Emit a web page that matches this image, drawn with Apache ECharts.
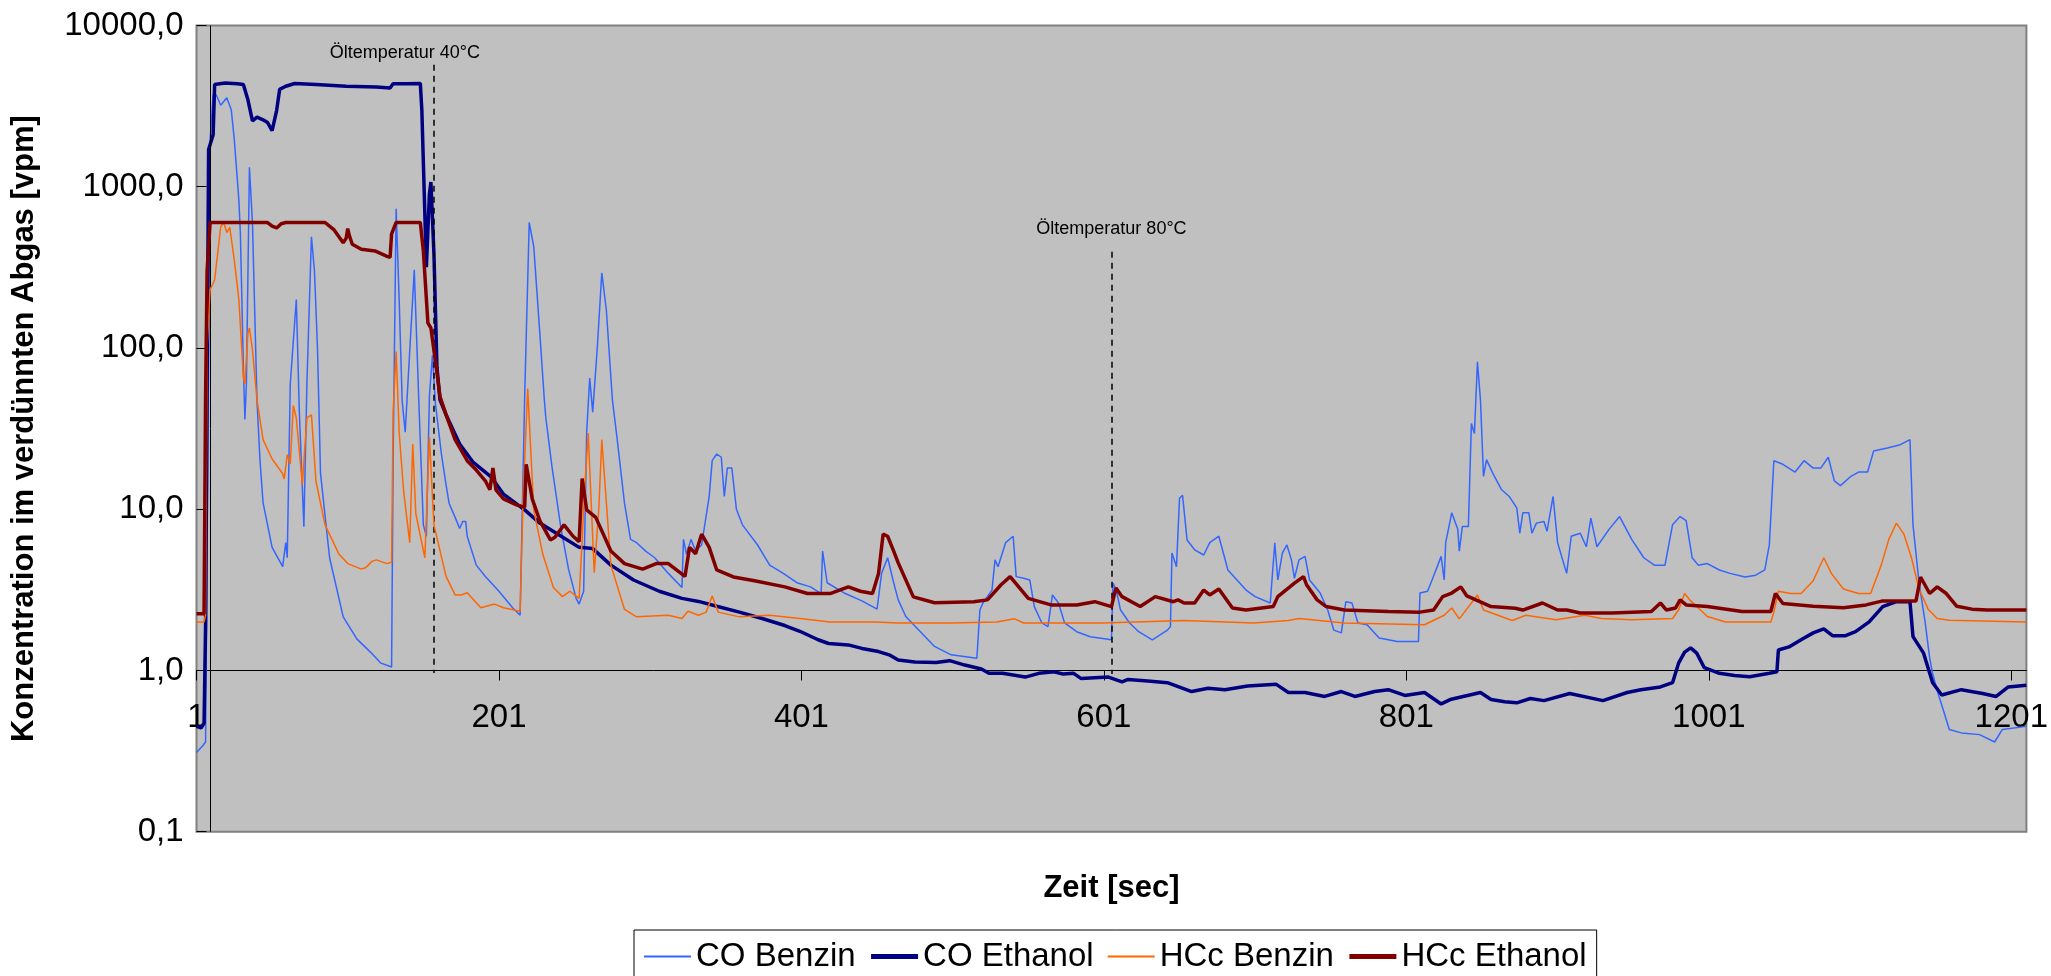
<!DOCTYPE html>
<html><head><meta charset="utf-8">
<script src="https://cdn.jsdelivr.net/npm/echarts@6/dist/echarts.min.js"></script>
<style>html,body{margin:0;padding:0;background:#fff}#c{width:2051px;height:976px}</style>
</head><body><div id="c"></div>
<script>
// time axis: 1 .. 1211 s (category axis)
const N = 1211;
const categories = Array.from({length: N}, (_, i) => String(i + 1));
const yTickValues = [0.1, 1, 10, 100, 1000, 10000];
const seriesNames = ['CO Benzin', 'CO Ethanol', 'HCc Benzin', 'HCc Ethanol'];

// [time s, value vpm]
const coBenzin = [[1,0.31],[5,0.34],[7,0.36],[8,5],[10,1970],[12,3720],[14,3720],[17,3200],[21,3560],[24,3000],[26,1960],[29,830],[30,518],[32,76],[33,36],[34,60],[36,1320],[38,600],[41,47],[43,20],[45,11],[51,5.8],[58,4.4],[60,6.2],[61,5],[63,60],[67,200],[69,40],[72,7.8],[74,60],[77,490],[79,300],[81,100],[83,16.7],[89,5],[98,2.15],[107,1.57],[116,1.3],[123,1.11],[130,1.05],[131,20],[133,730],[135,200],[137,47],[139,30],[145,305],[148,47],[151,8],[153,6.8],[155,50],[157,90],[159,45],[163,21.8],[166,14.2],[168,10.9],[172,8.9],[175,7.6],[177,8.4],[179,8.4],[180,6.8],[186,4.5],[192,3.83],[201,3.1],[210,2.45],[215,2.2],[218,50],[221,600],[224,425],[228,124],[231,47.7],[232,36.8],[236,18.5],[242,7.6],[247,4.25],[252,2.8],[254,2.58],[257,3.1],[259,30],[261,65],[263,40],[266,100],[269,292],[272,172],[276,47.7],[279,28],[284,10.9],[288,6.5],[292,6.2],[298,5.5],[304,5.0],[313,4.0],[322,3.27],[323,6.5],[325,5.25],[328,6.5],[331,5.5],[335,6.0],[340,12],[342,20],[345,22],[348,21],[350,12],[352,18],[355,18],[358,10],[362,8],[372,6],[380,4.5],[389,4.0],[398,3.5],[407,3.3],[414,3.0],[415,5.5],[418,3.5],[430,3.0],[441,2.7],[451,2.4],[454,4.0],[458,5.0],[462,3.5],[465,2.74],[470,2.16],[489,1.41],[500,1.25],[517,1.19],[519,2.37],[521,2.62],[527,3.15],[529,4.85],[531,4.4],[536,6.2],[541,6.8],[543,3.82],[548,3.73],[552,3.64],[555,2.49],[560,1.97],[564,1.87],[567,2.94],[571,2.62],[575,1.97],[583,1.74],[592,1.62],[606,1.55],[607,3.48],[609,3.2],[612,2.37],[618,1.97],[624,1.74],[633,1.55],[643,1.78],[645,1.87],[646,5.35],[649,4.4],[651,11.7],[653,12.2],[656,6.45],[661,5.6],[667,5.2],[671,6.2],[677,6.8],[683,4.2],[695,3.15],[701,2.87],[711,2.62],[714,6.2],[716,3.64],[719,5.35],[722,6.0],[725,4.85],[727,3.73],[730,4.85],[734,5.1],[737,3.64],[744,3.02],[749,2.37],[753,1.78],[758,1.71],[761,2.67],[765,2.62],[769,1.97],[775,1.92],[783,1.59],[795,1.51],[809,1.51],[810,3.02],[815,3.1],[818,3.64],[824,5.1],[826,3.64],[827,6.2],[831,9.5],[835,7.5],[836,5.5],[838,7.8],[842,7.8],[844,34],[846,29.5],[848,82],[850,47.7],[852,16],[854,20.3],[858,16.8],[864,13.2],[869,12],[874,10.2],[876,7.1],[878,9.5],[882,9.5],[884,7.1],[887,8.2],[892,8.4],[894,7.3],[898,12],[901,6.2],[907,4.0],[910,6.8],[916,7.1],[920,5.85],[923,8.8],[927,5.85],[935,7.5],[942,9],[950,6.5],[958,5],[965,4.5],[972,4.5],[977,8],[982,9],[986,8.5],[990,5],[994,4.5],[1000,4.6],[1008,4.2],[1015,4.0],[1025,3.8],[1032,3.9],[1038,4.2],[1041,6],[1044,20],[1050,19],[1058,17],[1064,20],[1070,18],[1075,18],[1080,21],[1084,15],[1088,14],[1095,16],[1100,17],[1106,17],[1110,23],[1119,24],[1127,25],[1134,27],[1136,8],[1140,3.5],[1144,2.0],[1147,1.2],[1149,0.95],[1153,0.7],[1156,0.57],[1160,0.43],[1168,0.41],[1180,0.4],[1190,0.36],[1195,0.43],[1211,0.45]];

const coEthanol = [[1,0.45],[4,0.44],[6,0.47],[7,1.9],[9,1700],[12,2100],[13,4300],[20,4400],[28,4350],[32,4300],[35,3460],[38,2560],[41,2700],[45,2600],[48,2500],[51,2230],[52,2200],[54,2980],[56,4020],[60,4200],[66,4370],[80,4300],[100,4200],[120,4150],[129,4100],[131,4350],[140,4350],[149,4370],[150,3000],[153,317],[155,900],[156,1070],[158,385],[160,76],[162,47.7],[166,38.6],[175,25.4],[184,19.5],[196,15.8],[204,12.4],[218,9.9],[228,8.2],[240,7.0],[254,5.8],[263,5.7],[275,4.5],[290,3.64],[307,3.1],[322,2.8],[333,2.68],[345,2.5],[360,2.3],[375,2.1],[390,1.9],[400,1.75],[412,1.55],[419,1.47],[432,1.44],[441,1.37],[452,1.31],[459,1.25],[465,1.16],[476,1.13],[490,1.12],[499,1.15],[509,1.08],[520,1.02],[525,0.96],[534,0.96],[549,0.91],[558,0.96],[568,0.98],[574,0.95],[581,0.96],[586,0.89],[604,0.91],[613,0.85],[617,0.88],[630,0.86],[643,0.84],[659,0.74],[670,0.775],[681,0.76],[696,0.8],[715,0.82],[723,0.73],[734,0.73],[747,0.69],[758,0.74],[767,0.69],[780,0.74],[789,0.76],[800,0.7],[813,0.73],[824,0.62],[830,0.66],[850,0.73],[857,0.66],[866,0.64],[874,0.63],[883,0.67],[892,0.65],[909,0.72],[931,0.65],[947,0.73],[956,0.76],[969,0.79],[977,0.84],[981,1.11],[985,1.3],[989,1.38],[993,1.28],[998,1.04],[1008,0.96],[1018,0.93],[1028,0.915],[1041,0.96],[1046,0.98],[1047,1.34],[1054,1.40],[1062,1.55],[1070,1.71],[1077,1.81],[1083,1.64],[1091,1.64],[1098,1.74],[1107,2.0],[1116,2.49],[1125,2.67],[1134,2.67],[1136,1.62],[1143,1.28],[1149,0.84],[1155,0.705],[1168,0.76],[1182,0.72],[1191,0.69],[1199,0.79],[1211,0.81]];

const hcBenzin = [[1,2.0],[6,2.0],[7,2.2],[8,100],[10,230],[13,264],[17,565],[19,600],[21,520],[23,560],[26,350],[29,200],[32,66],[33,60],[35,124],[36,133],[38,98],[41,47.6],[45,27],[51,20.5],[58,16.6],[59,15.4],[61,21.8],[63,19.1],[65,44],[67,36.8],[71,14.2],[74,36.8],[77,38.5],[80,14.9],[86,8.0],[95,5.3],[101,4.6],[110,4.25],[113,4.35],[117,4.75],[120,4.85],[124,4.7],[127,4.6],[130,4.7],[131,40],[133,95],[135,30],[138,12.8],[142,6.2],[144,25.4],[146,9.4],[152,5.0],[155,28],[158,8.0],[166,3.83],[172,2.94],[176,2.94],[180,3.03],[189,2.45],[198,2.58],[204,2.45],[215,2.33],[217,12.2],[220,56],[224,9.9],[230,5.25],[237,3.27],[243,2.87],[248,3.1],[254,2.8],[258,15],[260,29.7],[264,4.04],[267,10],[269,27],[275,4.5],[284,2.39],[292,2.15],[313,2.2],[322,2.1],[326,2.33],[333,2.2],[338,2.3],[342,2.9],[346,2.3],[360,2.15],[380,2.2],[400,2.1],[420,2.0],[450,2.0],[465,1.97],[500,1.97],[530,2.0],[542,2.09],[548,1.97],[600,1.97],[654,2.04],[700,1.97],[723,2.04],[730,2.1],[760,1.97],[813,1.92],[826,2.2],[831,2.44],[836,2.09],[848,2.94],[852,2.37],[871,2.04],[880,2.2],[900,2.06],[919,2.2],[930,2.1],[950,2.06],[977,2.1],[981,2.37],[985,3.0],[989,2.7],[993,2.49],[1000,2.16],[1012,2.0],[1042,2.0],[1044,2.3],[1047,3.1],[1055,3.0],[1062,3.0],[1070,3.6],[1077,5.0],[1082,4.0],[1090,3.2],[1100,3.0],[1108,3.0],[1115,4.5],[1120,6.5],[1125,8.2],[1130,7.0],[1135,5.0],[1140,3.2],[1146,2.4],[1152,2.1],[1160,2.05],[1211,2.0]];

const hcEthanol = [[1,2.25],[6,2.25],[7,50],[8,300],[10,600],[30,600],[48,600],[51,570],[54,555],[57,590],[60,600],[86,600],[92,540],[98,450],[100,480],[101,550],[102,500],[104,440],[110,410],[119,400],[127,370],[129,365],[130,510],[133,600],[149,600],[151,400],[154,143],[156,133],[160,70],[162,50],[166,38.6],[172,27],[180,20],[186,17.5],[192,15],[195,13.2],[197,18],[199,13.2],[204,11.6],[213,10.6],[218,10.3],[219,19],[223,11.6],[228,8.5],[235,6.45],[238,6.7],[244,8.0],[250,6.8],[254,6.3],[256,15.5],[259,9.9],[265,8.9],[275,5.5],[284,4.6],[296,4.25],[305,4.6],[313,4.6],[324,3.83],[327,5.8],[331,5.3],[335,7.0],[340,5.8],[345,4.2],[356,3.8],[370,3.6],[390,3.3],[405,3.0],[420,3.0],[432,3.3],[440,3.1],[448,3.0],[452,4.0],[455,7.0],[458,6.8],[462,5.5],[465,4.65],[475,2.86],[489,2.63],[515,2.67],[524,2.74],[533,3.4],[539,3.82],[551,2.8],[566,2.55],[583,2.55],[595,2.67],[606,2.49],[609,3.25],[613,2.87],[625,2.49],[635,2.87],[647,2.67],[650,2.74],[654,2.62],[661,2.62],[667,3.15],[671,2.94],[677,3.2],[686,2.44],[695,2.37],[713,2.49],[716,2.87],[727,3.48],[733,3.82],[735,3.4],[742,2.74],[748,2.49],[760,2.37],[789,2.32],[810,2.3],[819,2.37],[825,2.87],[831,3.02],[837,3.3],[841,2.9],[857,2.49],[873,2.43],[878,2.37],[891,2.62],[901,2.37],[907,2.37],[916,2.27],[937,2.27],[963,2.32],[969,2.62],[973,2.37],[979,2.44],[982,2.74],[986,2.55],[1000,2.49],[1023,2.32],[1042,2.32],[1045,3.0],[1050,2.6],[1070,2.5],[1090,2.45],[1105,2.55],[1116,2.7],[1138,2.7],[1141,3.8],[1147,3.0],[1152,3.3],[1158,3.0],[1165,2.5],[1175,2.4],[1185,2.37],[1211,2.37]];

const annotations = [
  {text: 'Öltemperatur 40°C', time: '158', top: 5700, bottom: 0.965},
  {text: 'Öltemperatur 80°C', time: '606', top: 395, bottom: 0.95}
];
const axisCrossTime = '10';

const FONT = '"Liberation Sans", Arial, sans-serif';
const toData = arr => arr.map(p => [String(p[0]), p[1]]);
const fmt = v => (Math.round(v * 10) / 10).toFixed(1).replace('.', ',');

const chart = echarts.init(document.getElementById('c'), null, {renderer: 'canvas'});
const colors = ['#3366FF', '#000080', '#FF6600', '#800000'];
const widths = [1.5, 3.5, 1.5, 3.5];
const legendWidths = [2, 5, 2, 5];
const datas = [coBenzin, coEthanol, hcBenzin, hcEthanol];

const series = seriesNames.map((n, i) => ({
  name: n, type: 'line', data: toData(datas[i]), symbol: 'none', showSymbol: false,
  lineStyle: {color: colors[i], width: widths[i]}, itemStyle: {color: colors[i]},
  z: 3 + i, animation: false
}));

series[0].markLine = {
  silent: true, symbol: 'none', animation: false,
  data: [
    {xAxis: axisCrossTime, lineStyle: {type: 'solid', color: '#000', width: 1}, label: {show: false}},
    [
      {coord: [annotations[0].time, annotations[0].top], label: {show: true, position: 'start', formatter: annotations[0].text, fontSize: 18, fontFamily: FONT, color: '#000', distance: 3, offset: [-29, 0]}},
      {coord: [annotations[0].time, annotations[0].bottom]}
    ],
    [
      {coord: [annotations[1].time, annotations[1].top], label: {show: true, position: 'start', formatter: annotations[1].text, fontSize: 18, fontFamily: FONT, color: '#000', distance: 14}},
      {coord: [annotations[1].time, annotations[1].bottom]}
    ]
  ],
  lineStyle: {type: [6, 5], color: '#000', width: 1.5}
};

chart.setOption({
  animation: false,
  backgroundColor: '#fff',
  grid: {left: 196.5, top: 25.5, right: 20, bottom: 144.3, show: true, backgroundColor: '#C0C0C0', borderColor: '#808080', borderWidth: 2},
  legend: {
    data: seriesNames.map((n, i) => ({name: n, lineStyle: {width: legendWidths[i], color: colors[i]}})),
    left: 634, top: 930, orient: 'horizontal',
    padding: [10, 10, 10, 9], itemGap: 13, itemWidth: 47, itemHeight: 14,
    borderColor: '#000', borderWidth: 1, backgroundColor: '#fff',
    itemStyle: {opacity: 0},
    textStyle: {fontSize: 33, fontFamily: FONT, color: '#000'}
  },
  xAxis: {
    type: 'category', data: categories, boundaryGap: false, offset: -161.2,
    axisLine: {show: true, lineStyle: {color: '#000', width: 1}},
    axisTick: {show: true, interval: 199, length: 10, lineStyle: {color: '#000'}},
    axisLabel: {interval: 199, fontSize: 33, fontFamily: FONT, color: '#000', margin: 31},
    splitLine: {show: false},
    name: 'Zeit [sec]', nameLocation: 'middle', nameGap: 202,
    nameTextStyle: {fontSize: 31, fontWeight: 'bold', fontFamily: FONT, color: '#000'}
  },
  yAxis: {
    type: 'log', logBase: 10, min: yTickValues[0], max: yTickValues[yTickValues.length - 1],
    axisLine: {show: false},
    axisTick: {show: true, inside: true, length: 10, lineStyle: {color: '#000'}},
    axisLabel: {fontSize: 33, fontFamily: FONT, color: '#000', margin: 13, formatter: fmt},
    splitLine: {show: false},
    name: 'Konzentration im verdünnten Abgas [vpm]', nameLocation: 'middle', nameGap: 157, nameRotate: 90,
    nameTextStyle: {fontSize: 31, fontWeight: 'bold', fontFamily: FONT, color: '#000'}
  },
  series: series
});
</script></body></html>
